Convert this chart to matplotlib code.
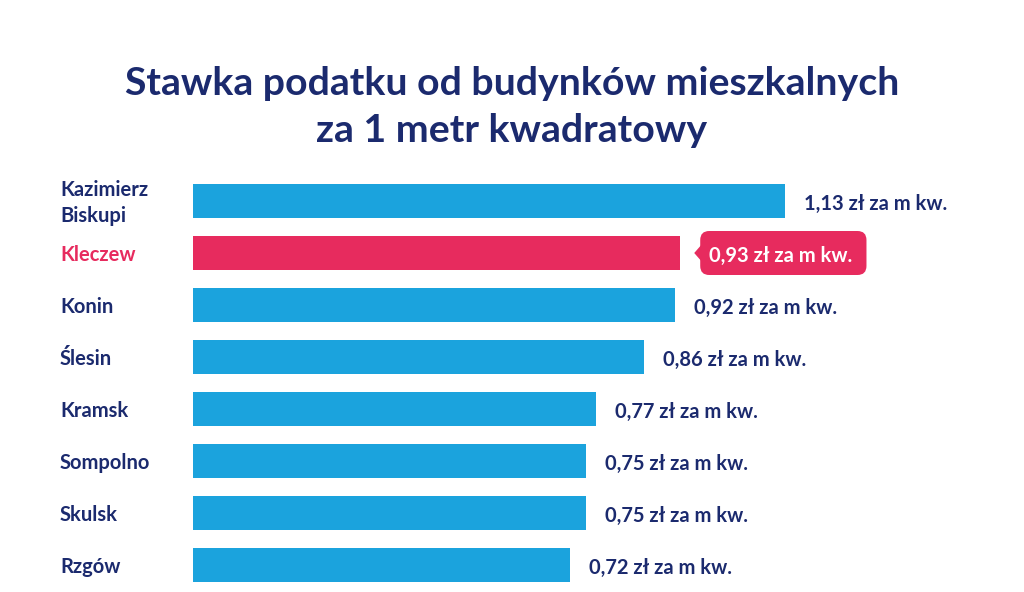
import matplotlib
matplotlib.use("Agg")
import matplotlib.pyplot as plt
from matplotlib.patches import Polygon, FancyBboxPatch
from matplotlib.transforms import IdentityTransform

categories = ["Kazimierz\nBiskupi", "Kleczew", "Konin", "Ślesin", "Kramsk", "Sompolno", "Skulsk", "Rzgów"]
values = [1.13, 0.93, 0.92, 0.86, 0.77, 0.75, 0.75, 0.72]
value_labels = ["1,13 zł za m kw.", "0,93 zł za m kw.", "0,92 zł za m kw.", "0,86 zł za m kw.",
                "0,77 zł za m kw.", "0,75 zł za m kw.", "0,75 zł za m kw.", "0,72 zł za m kw."]
highlight = "Kleczew"
title = "Stawka podatku od budynków mieszkalnych\nza 1 metr kwadratowy"

BLUE = "#1BA3DD"
PINK = "#E72B5E"
NAVY = "#1B2A6E"
FONT = ["Lato", "DejaVu Sans"]

W, H = 1024, 592
fig = plt.figure(figsize=(W / 100, H / 100), dpi=100)
fig.patch.set_facecolor("white")

ax_left, ax_right = 193, 1000
ax_top, ax_bot = 175, 591
ax = fig.add_axes([ax_left / W, 1 - ax_bot / H, (ax_right - ax_left) / W, (ax_bot - ax_top) / H])
px_per_unit = (785 - 193) / 1.13
ax.set_xlim(0, (ax_right - ax_left) / px_per_unit)
ax.set_ylim(len(categories) - 0.5, -0.5)
ax.axis("off")

ypos = list(range(len(categories)))
colors = [PINK if c == highlight else BLUE for c in categories]
ax.barh(ypos, values, height=34 / 52, color=colors, edgecolor="none")

renderer = fig.canvas.get_renderer()
for y, c, v, lab in zip(ypos, categories, values, value_labels):
    fig.text(60 / W, 1 - (175 + 52 * y + 28) / H, c, ha="left", va="center",
             fontsize=14.5, fontweight="bold", family=FONT,
             color=PINK if c == highlight else NAVY, linespacing=1.35)
    if c == highlight:
        t = ax.annotate(lab, xy=(v, y), xytext=(29, -3), textcoords="offset pixels",
                        ha="left", va="center", fontsize=14.5, fontweight="bold",
                        family=FONT, color="white", zorder=6, annotation_clip=False)
        ext = t.get_window_extent(renderer)
        x0, y0 = ax.transData.transform((v, y))
        bx0 = x0 + 20
        bx1 = ext.x1 + 14
        by0, by1 = y0 - 22, y0 + 22
        box = FancyBboxPatch((bx0, by0), bx1 - bx0, by1 - by0,
                             boxstyle="round,pad=0,rounding_size=9",
                             transform=IdentityTransform(), fc=PINK, ec="none",
                             zorder=4, clip_on=False)
        ax.add_artist(box)
        tri = Polygon([(x0 + 14, y0), (x0 + 21, y0 + 8), (x0 + 21, y0 - 8)], closed=True,
                      transform=IdentityTransform(), fc=PINK, ec="none",
                      zorder=4, clip_on=False)
        ax.add_artist(tri)
    else:
        ax.annotate(lab, xy=(v, y), xytext=(19, -3), textcoords="offset pixels",
                    ha="left", va="center", fontsize=14.5, fontweight="bold",
                    family=FONT, color=NAVY)

fig.text(0.5, 1 - 107 / H, title, ha="center", va="center", fontsize=28.3,
         fontweight="bold", family=FONT, color=NAVY, linespacing=1.42)

fig.savefig("out.png", dpi=100, facecolor="white")
